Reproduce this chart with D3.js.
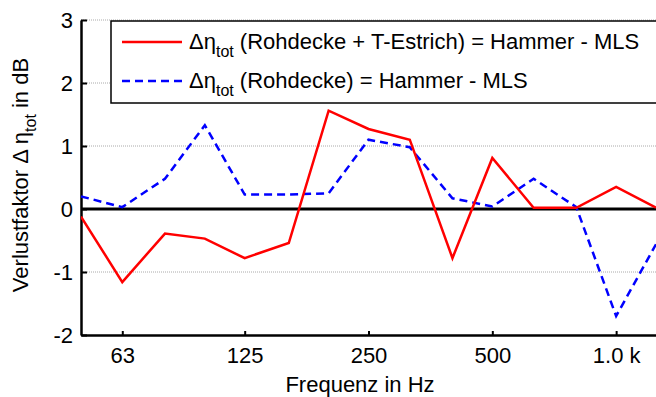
<!DOCTYPE html>
<html>
<head>
<meta charset="utf-8">
<script src="https://cdn.jsdelivr.net/npm/d3@7"></script>
<style>
  body { margin: 0; background: #fff; }
  text { font-family: "Liberation Sans", Arial, sans-serif; fill: #000; }
</style>
</head>
<body>
<div id="chart"></div>
<script>
// third-octave bands
const freqs = [50, 63, 80, 100, 125, 160, 200, 250, 315, 400, 500, 630, 800, 1000, 1250];
const estrich = [-0.12, -1.16, -0.39, -0.47, -0.78, -0.54, 1.56, 1.27, 1.10, -0.78, 0.81, 0.02, 0.02, 0.35, 0.02];
const rohdecke = [0.20, 0.03, 0.48, 1.33, 0.23, 0.23, 0.25, 1.10, 0.98, 0.17, 0.04, 0.48, 0.03, -1.70, -0.56];
const xTicks = [63, 125, 250, 500, 1000];
const xTickLabels = ["63", "125", "250", "500", "1.0 k"];
const yTicks = [-2, -1, 0, 1, 2, 3];

const W = 656, H = 397;
const FS = "22px", SUB = "16px";
const svg = d3.select("#chart").append("svg")
    .attr("width", W)
    .attr("height", H);

const x = d3.scaleLog().domain([50, 1250]).range([81, 656]);
const y = d3.scaleLinear().domain([-2, 3]).range([335, 20]);

svg.append("clipPath").attr("id", "clip")
  .append("rect")
    .attr("x", 81).attr("y", 10)
    .attr("width", W - 81).attr("height", 330);

// grid lines
svg.append("g")
  .selectAll("line")
  .data(yTicks.filter(d => d !== 0 && d !== -2))
  .enter().append("line")
    .attr("x1", 81).attr("x2", W)
    .attr("y1", d => y(d)).attr("y2", d => y(d))
    .attr("stroke", "#aaa")
    .attr("stroke-width", 1)
    .attr("stroke-dasharray", "1,1");

// y axis
const yAxis = svg.append("g")
    .attr("transform", "translate(81,0)")
    .call(d3.axisLeft(y).tickValues(yTicks).tickFormat(d => String(d)).tickSizeInner(-6).tickSizeOuter(0).tickPadding(8));
yAxis.select(".domain").attr("stroke", "#000").attr("stroke-width", 2.5);
yAxis.selectAll(".tick line").attr("stroke", "#000").attr("stroke-width", 2);
yAxis.selectAll("text").style("font-size", FS).attr("dy", "0.36em");

// x axis
const xAxis = svg.append("g")
    .attr("transform", "translate(0,335)")
    .call(d3.axisBottom(x).tickValues(xTicks).tickFormat((d, i) => xTickLabels[i]).tickSizeInner(-4).tickSizeOuter(0).tickPadding(12));
xAxis.select(".domain").attr("stroke", "#000").attr("stroke-width", 2.5);
xAxis.selectAll(".tick line").attr("stroke", "#000").attr("stroke-width", 2);
xAxis.selectAll("text").style("font-size", FS);

// zero line
svg.append("line")
    .attr("x1", 81).attr("x2", W)
    .attr("y1", y(0)).attr("y2", y(0))
    .attr("stroke", "#000")
    .attr("stroke-width", 3);

const line = d3.line()
    .x((d, i) => x(freqs[i]))
    .y(d => y(d));

const plot = svg.append("g").attr("clip-path", "url(#clip)");

plot.append("path")
    .datum(rohdecke)
    .attr("d", line)
    .attr("fill", "none")
    .attr("stroke", "#0000ff")
    .attr("stroke-width", 2.5)
    .attr("stroke-dasharray", "8,5");

plot.append("path")
    .datum(estrich)
    .attr("d", line)
    .attr("fill", "none")
    .attr("stroke", "#ff0000")
    .attr("stroke-width", 2.5);

// legend (box runs past the right edge)
const legend = svg.append("g");
legend.append("rect")
    .attr("x", 111).attr("y", 21)
    .attr("width", 600).attr("height", 82)
    .attr("fill", "#fff")
    .attr("stroke", "#000")
    .attr("stroke-width", 1.5);

const entries = [
  { color: "#ff0000", dash: null, rest: " (Rohdecke + T-Estrich) = Hammer - MLS", y: 42 },
  { color: "#0000ff", dash: "8,5", rest: " (Rohdecke) = Hammer - MLS", y: 81 }
];
entries.forEach(e => {
  legend.append("line")
      .attr("x1", 122).attr("x2", 182)
      .attr("y1", e.y).attr("y2", e.y)
      .attr("stroke", e.color)
      .attr("stroke-width", 2.5)
      .attr("stroke-dasharray", e.dash);
  const t = legend.append("text")
      .attr("x", 189).attr("y", e.y + 7)
      .style("font-size", FS);
  t.append("tspan").text("\u0394\u03b7");
  t.append("tspan").attr("dy", 8).style("font-size", SUB).text("tot");
  t.append("tspan").attr("dy", -8).text(e.rest);
});

// axis titles
svg.append("text")
    .attr("x", 360).attr("y", 392)
    .attr("text-anchor", "middle")
    .style("font-size", FS)
    .text("Frequenz in Hz");

const yl = svg.append("text")
    .attr("transform", "translate(28,175) rotate(-90)")
    .attr("text-anchor", "middle")
    .style("font-size", FS);
yl.append("tspan").text("Verlustfaktor \u0394 \u03b7");
yl.append("tspan").attr("dy", 8).style("font-size", SUB).text("tot");
yl.append("tspan").attr("dy", -8).text(" in dB");
</script>
</body>
</html>
